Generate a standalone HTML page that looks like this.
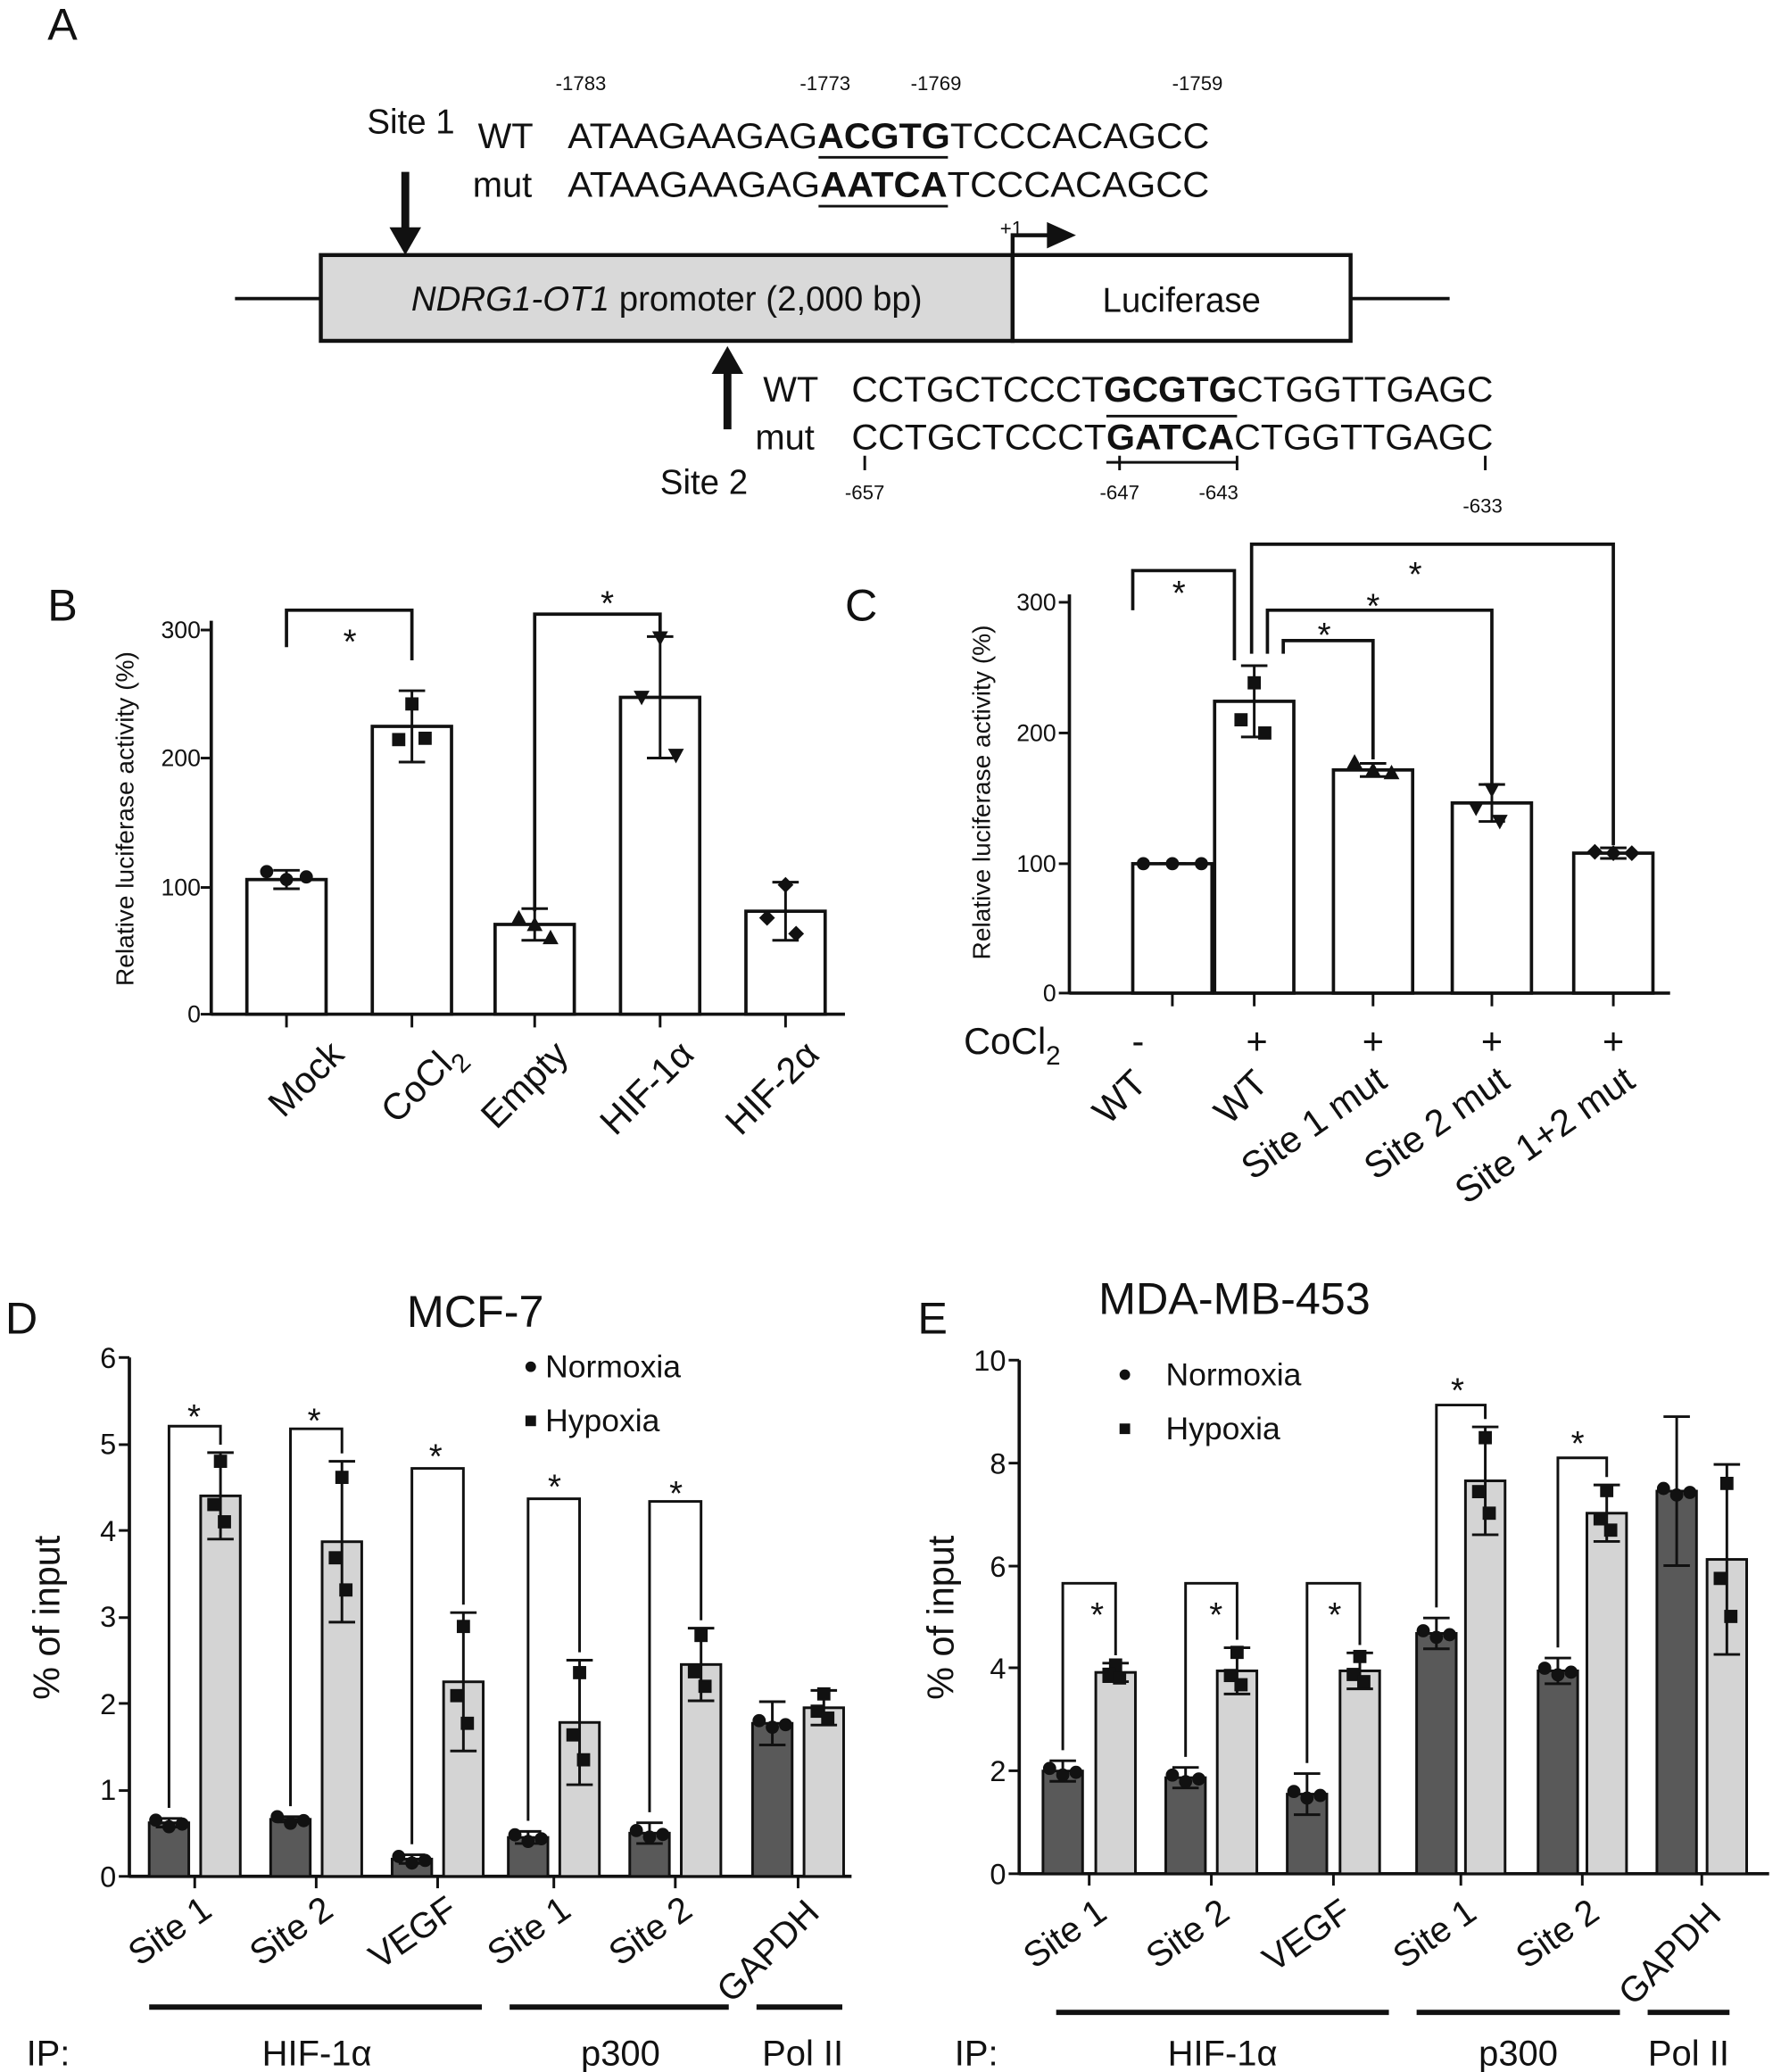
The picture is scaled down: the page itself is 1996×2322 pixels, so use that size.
<!DOCTYPE html>
<html><head><meta charset="utf-8"><style>
html,body{margin:0;padding:0;background:#fff}
svg{display:block}
text{font-family:"Liberation Sans",Arial,sans-serif;fill:#111}
</style></head><body>
<svg id="s" width="1996" height="2322" viewBox="0 0 1349 1569" xmlns="http://www.w3.org/2000/svg">
<g id="shapes" stroke="#111" fill="none" stroke-width="2.5"></g>
<!-- Panel A -->
<text x="36" y="30" font-size="34">A</text>
<g font-size="15" text-anchor="middle">
<text x="440" y="68">-1783</text><text x="625" y="68">-1773</text><text x="709" y="68">-1769</text><text x="907" y="68">-1759</text>
<text x="655" y="378">-657</text><text x="848" y="378">-647</text><text x="923" y="378">-643</text><text x="1123" y="388">-633</text>
<text x="766" y="178">+1</text>
</g>
<text x="278" y="101" font-size="26">Site 1</text>
<text x="500" y="374" font-size="26">Site 2</text>
<g font-size="27">
<text x="362" y="112">WT</text><text x="430" y="112" textLength="486" lengthAdjust="spacingAndGlyphs">ATAAGAAGAG<tspan font-weight="bold">ACGTG</tspan>TCCCACAGCC</text>
<text x="358" y="149">mut</text><text x="430" y="149" textLength="486" lengthAdjust="spacingAndGlyphs">ATAAGAAGAG<tspan font-weight="bold">AATCA</tspan>TCCCACAGCC</text>
<text x="578" y="304">WT</text><text x="645" y="304" textLength="486" lengthAdjust="spacingAndGlyphs">CCTGCTCCCT<tspan font-weight="bold">GCGTG</tspan>CTGGTTGAGC</text>
<text x="572" y="340">mut</text><text x="645" y="340" textLength="486" lengthAdjust="spacingAndGlyphs">CCTGCTCCCT<tspan font-weight="bold">GATCA</tspan>CTGGTTGAGC</text>
</g>
<text x="505" y="235" font-size="26" text-anchor="middle"><tspan font-style="italic">NDRG1-OT1</tspan> promoter (2,000 bp)</text>
<text x="895" y="236" font-size="26" text-anchor="middle">Luciferase</text>

<!-- Panel B -->
<text x="36" y="470" font-size="34">B</text>
<text transform="translate(101,620) rotate(-90)" font-size="19" text-anchor="middle">Relative luciferase activity (%)</text>
<g font-size="18" text-anchor="end"><text x="152" y="774">0</text><text x="152" y="678">100</text><text x="152" y="580">200</text><text x="152" y="483">300</text></g>
<g font-size="28" text-anchor="end">
<text transform="translate(262,800) rotate(-45)">Mock</text>
<text transform="translate(352,800) rotate(-45)">CoCl<tspan font-size="20" dy="8">2</tspan></text>
<text transform="translate(432,800) rotate(-45)">Empty</text>
<text transform="translate(527,800) rotate(-45)">HIF-1α</text>
<text transform="translate(622,800) rotate(-45)">HIF-2α</text>
</g>
<g font-size="26" text-anchor="middle"><text x="265" y="495">*</text><text x="460" y="466">*</text></g>

<!-- Panel C -->
<text x="640" y="470" font-size="34">C</text>
<text transform="translate(750,600) rotate(-90)" font-size="19" text-anchor="middle">Relative luciferase activity (%)</text>
<g font-size="18" text-anchor="end"><text x="800" y="758">0</text><text x="800" y="660">100</text><text x="800" y="561">200</text><text x="800" y="462">300</text></g>
<text x="730" y="798" font-size="28">CoCl<tspan font-size="20" dy="8">2</tspan></text>
<g font-size="28" text-anchor="middle"><text x="862" y="798">-</text><text x="952" y="798">+</text><text x="1040" y="798">+</text><text x="1130" y="798">+</text><text x="1222" y="798">+</text></g>
<g font-size="28" text-anchor="end">
<text transform="translate(870,822) rotate(-45)">WT</text>
<text transform="translate(962,822) rotate(-45)">WT</text>
<text transform="translate(1052,822) rotate(-35)">Site 1 mut</text>
<text transform="translate(1145,822) rotate(-35)">Site 2 mut</text>
<text transform="translate(1240,822) rotate(-35)">Site 1+2 mut</text>
</g>
<g font-size="26" text-anchor="middle"><text x="893" y="458">*</text><text x="1003" y="490">*</text><text x="1040" y="468">*</text><text x="1072" y="444">*</text></g>

<!-- Panel D -->
<text x="4" y="1010" font-size="34">D</text>
<text x="360" y="1005" font-size="34" text-anchor="middle">MCF-7</text>
<text transform="translate(45,1225) rotate(-90)" font-size="28" text-anchor="middle">% of input</text>
<g font-size="22" text-anchor="end">
<text x="88" y="1429">0</text><text x="88" y="1363">1</text><text x="88" y="1298">2</text><text x="88" y="1232">3</text><text x="88" y="1167">4</text><text x="88" y="1101">5</text><text x="88" y="1036">6</text></g>
<text x="413" y="1043" font-size="24">Normoxia</text><text x="413" y="1084" font-size="24">Hypoxia</text>
<g font-size="27" text-anchor="end">
<text transform="translate(162,1450) rotate(-35)">Site 1</text>
<text transform="translate(254,1450) rotate(-35)">Site 2</text>
<text transform="translate(348,1450) rotate(-35)">VEGF</text>
<text transform="translate(434,1450) rotate(-35)">Site 1</text>
<text transform="translate(526,1450) rotate(-35)">Site 2</text>
<text transform="translate(622,1450) rotate(-45)">GAPDH</text>
</g>
<text x="20" y="1564" font-size="27">IP:</text>
<g font-size="27" text-anchor="middle"><text x="240" y="1564">HIF-1α</text><text x="470" y="1564">p300</text><text x="608" y="1564">Pol II</text></g>
<g font-size="26" text-anchor="middle"><text x="147" y="1082">*</text><text x="238" y="1085">*</text><text x="330" y="1112">*</text><text x="420" y="1135">*</text><text x="512" y="1140">*</text></g>

<!-- Panel E -->
<text x="695" y="1010" font-size="34">E</text>
<text x="935" y="995" font-size="34" text-anchor="middle">MDA-MB-453</text>
<text transform="translate(722,1225) rotate(-90)" font-size="28" text-anchor="middle">% of input</text>
<g font-size="22" text-anchor="end">
<text x="762" y="1427">0</text><text x="762" y="1349">2</text><text x="762" y="1271">4</text><text x="762" y="1194">6</text><text x="762" y="1116">8</text><text x="762" y="1038">10</text></g>
<text x="883" y="1049" font-size="24">Normoxia</text><text x="883" y="1090" font-size="24">Hypoxia</text>
<g font-size="27" text-anchor="end">
<text transform="translate(840,1452) rotate(-35)">Site 1</text>
<text transform="translate(933,1452) rotate(-35)">Site 2</text>
<text transform="translate(1025,1452) rotate(-35)">VEGF</text>
<text transform="translate(1120,1452) rotate(-35)">Site 1</text>
<text transform="translate(1213,1452) rotate(-35)">Site 2</text>
<text transform="translate(1305,1452) rotate(-45)">GAPDH</text>
</g>
<text x="723" y="1564" font-size="27">IP:</text>
<g font-size="27" text-anchor="middle"><text x="926" y="1564">HIF-1α</text><text x="1150" y="1564">p300</text><text x="1279" y="1564">Pol II</text></g>
<g font-size="26" text-anchor="middle"><text x="831" y="1232">*</text><text x="921" y="1232">*</text><text x="1011" y="1232">*</text><text x="1104" y="1062">*</text><text x="1195" y="1102">*</text></g>
</svg>
<script>
var g=document.getElementById('shapes'),NS='http://www.w3.org/2000/svg';
function el(t,a){var e=document.createElementNS(NS,t);for(var k in a)e.setAttribute(k,a[k]);g.appendChild(e);return e;}
function L(x1,y1,x2,y2,w){el('line',{x1:x1,y1:y1,x2:x2,y2:y2,'stroke-width':w||2.5});}
function P(d,f,w){el('path',{d:d,fill:f||'none','stroke-width':(w===0?0:(w||2.5))});}
function mk(x,y,t,r){r=r||5;if(t==0)el('circle',{cx:x,cy:y,r:r,fill:'#111',stroke:'none'});
 else if(t==1)el('rect',{x:x-r,y:y-r,width:2*r,height:2*r,fill:'#111',stroke:'none'});
 else if(t==2)P('M'+x+','+(y-r-1)+'L'+(x+r+1)+','+(y+r)+'L'+(x-r-1)+','+(y+r)+'Z','#111',0);
 else if(t==3)P('M'+x+','+(y+r+1)+'L'+(x+r+1)+','+(y-r)+'L'+(x-r-1)+','+(y-r)+'Z','#111',0);
 else P('M'+x+','+(y-r-1)+'L'+(x+r+1)+','+y+'L'+x+','+(y+r+1)+'L'+(x-r-1)+','+y+'Z','#111',0);}
L(620,119,718,119,2);L(620,156,718,156,2);L(838,315,937,315,2);L(838,350,937,350,2);
L(307,130,307,175,6);P('M295,172L319,172L307,193Z','#111',0);
L(551,325,551,280,6);P('M539,283L563,283L551,262Z','#111',0);
L(178,226,243,226);L(1023,226,1098,226);
el('rect',{x:243,y:193,width:524,height:65,fill:'#d9d9d9','stroke-width':3});
el('rect',{x:767,y:193,width:256,height:65,fill:'#fff','stroke-width':3});
P('M767,193L767,178L795,178',null,3);P('M793,168L815,178L793,188Z','#111',0);
[655,848,937,1125].forEach(function(x){L(x,345,x,356,2);});
function axis(x0,y0,y1,xe,ticks){L(x0,y0+1,x0,y1);L(x0,y0,xe,y0);ticks.forEach(function(t){L(x0-8,t,x0,t,2);});}
function bar(cx,w,y0,tp,fill,err,pts,t,sw){el('rect',{x:cx-w/2,y:tp,width:w,height:y0-tp,fill:fill,'stroke-width':sw||2.5});
 L(cx,tp-err,cx,tp+err,2);L(cx-10,tp-err,cx+10,tp-err,2);L(cx-10,tp+err,cx+10,tp+err,2);
 pts.forEach(function(p){mk(cx+p[0],tp+p[1],t);});}
axis(160,768,470,640,[768,672,574,477]);
[[217,666,7,0,[[-15,-6],[0,0],[15,-2]]],[312,550,27,1,[[0,-17],[-10,10],[10,9]]],[405,700,12,2,[[-12,-5],[0,0],[12,10]]],[500,528,46,3,[[0,-45],[-14,0],[12,44]]],[595,690,22,4,[[0,-20],[-14,5],[8,17]]]].forEach(function(b){bar(b[0],60,768,b[1],'#fff',b[2],b[4],b[3]);L(b[0],768,b[0],778,2);});
P('M217,490L217,462L312,462L312,500');P('M405,690L405,465L500,465L500,480');
axis(810,752,450,1265,[752,654,555,456]);
[[888,654,0,0,[[-22,0],[0,0],[22,0]]],[950,531,27,1,[[0,-14],[-10,14],[8,24]]],[1040,583,5,2,[[-14,-6],[0,0],[14,2]]],[1130,608,14,3,[[0,-10],[-12,4],[6,14]]],[1222,646,4,4,[[-14,-1],[0,0],[14,0]]]].forEach(function(b){bar(b[0],60,752,b[1],'#fff',b[2],b[4],b[3]);L(b[0],752,b[0],762,2);});
P('M858,462L858,432L935,432L935,500');P('M972,495L972,485L1040,485L1040,575');P('M960,495L960,462L1130,462L1130,595');P('M948,495L948,412L1222,412L1222,640');
function group(x0,y0,yTop,xe,ticks,per,pairs,dc,lc,br){axis(x0,y0,yTop,xe,ticks);
 pairs.forEach(function(p,i){var td=y0-p[0]*per,tl=y0-p[2]*per;
  bar(dc[i],30,y0,td,'#595959',p[1]*per,[[-10,-2],[0,3],[10,1]],0,2);
  bar(lc[i],30,y0,tl,'#d4d4d4',p[3]*per,[[0,-p[3]*per*0.8],[-5,p[3]*per*0.2],[3,p[3]*per*0.6]],1,2);
  L((dc[i]+lc[i])/2,y0,(dc[i]+lc[i])/2,y0+9,2);
  if(br[i])P('M'+dc[i]+','+(td-p[1]*per-8)+'L'+dc[i]+','+br[i]+'L'+lc[i]+','+br[i]+'L'+lc[i]+','+(tl-p[3]*per-6),null,2);
 });}
group(98,1421,1028,645,[1421,1356,1290,1225,1159,1094,1028],65.5,
 [[.62,.05,4.4,.5],[.66,.03,3.87,.93],[.2,.05,2.25,.8],[.45,.07,1.78,.72],[.5,.12,2.45,.42],[1.77,.25,1.95,.2]],
 [128,220,312,400,492,585],[167,259,351,439,531,624],[1080,1082,1112,1135,1137,0]);
group(772,1419,1030,1340,[1419,1341,1263,1186,1108,1030],38.9,
 [[2.0,.2,3.92,.18],[1.87,.2,3.95,.45],[1.55,.4,3.95,.35],[4.68,.3,7.65,1.05],[3.95,.25,7.02,.55],[7.45,1.45,6.12,1.85]],
 [805,898,990,1088,1180,1270],[845,937,1030,1125,1217,1308],[1199,1199,1199,1064,1104,0]);
mk(402,1035,0,4);mk(402,1076,1,4);mk(852,1041,0,4);mk(852,1082,1,4);
[[113,365],[386,552],[573,638]].forEach(function(a){L(a[0],1520,a[1],1520,4);});
[[800,1052],[1073,1227],[1248,1310]].forEach(function(a){L(a[0],1524,a[1],1524,4);});
</script>
</body></html>
